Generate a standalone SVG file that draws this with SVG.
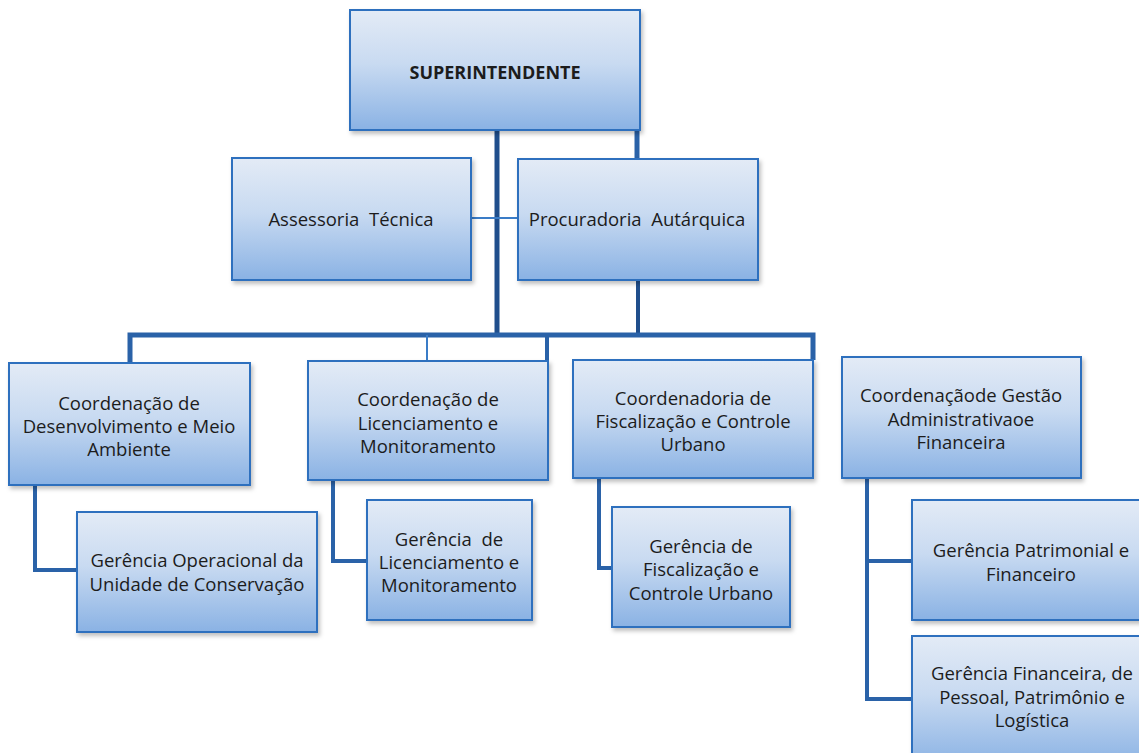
<svg xmlns="http://www.w3.org/2000/svg" width="1139" height="753" viewBox="0 0 1139 753">
<defs>
<linearGradient id="g" x1="0" y1="0" x2="0" y2="1">
<stop offset="0" stop-color="#e3ebf6"/>
<stop offset="0.45" stop-color="#c8daf1"/>
<stop offset="1" stop-color="#8ab2e4"/>
</linearGradient>
<filter id="sh" x="-5%" y="-5%" width="112%" height="115%">
<feDropShadow dx="2" dy="3" stdDeviation="2" flood-color="#000" flood-opacity="0.25"/>
</filter>
</defs>
<style>
.box{fill:url(#g);stroke:#2f6fbe;stroke-width:2;filter:url(#sh)}
.t{font-family:"Open Sans","Liberation Sans",sans-serif;font-size:18.5px;fill:#1c1c1c;text-anchor:middle;dominant-baseline:central;white-space:pre}
.b{font-weight:bold;font-size:18px}
.c{fill:none;stroke:#2a62a8;stroke-width:5;stroke-linejoin:miter}
.cd{stroke:#1f4e8c}
.thin{fill:none;stroke:#3a7cc7;stroke-width:2}
</style>
<rect width="1139" height="753" fill="#ffffff"/>
<g id="connectors">
<line class="c cd" x1="497" y1="130" x2="497" y2="336"/>
<line class="c" x1="637" y1="130" x2="637" y2="159" stroke-width="4"/>
<line class="thin" x1="471" y1="218" x2="518" y2="218"/>
<line class="c cd" x1="638" y1="280" x2="638" y2="336" style="stroke-width:4"/>
<polyline class="c" points="130,362 130,335 813,335 813,360"/>
<line class="thin" x1="427" y1="335" x2="427" y2="361"/>
<line class="c" x1="547" y1="335" x2="547" y2="361" style="stroke-width:4"/>
<polyline class="c" points="35,485 35,570 77,570" style="stroke-width:4"/>
<polyline class="c" points="333,480 333,561 367,561" style="stroke-width:4"/>
<polyline class="c" points="599,478 599,568 612,568" style="stroke-width:4"/>
<polyline class="c" points="867,478 867,699 912,699" style="stroke-width:4"/>
<line class="c" x1="867" y1="561" x2="912" y2="561" style="stroke-width:4"/>
</g>
<g id="superintendente">
<rect class="box" x="350" y="10" width="290" height="120"/>
<text class="t b" x="495" y="72">SUPERINTENDENTE</text>
</g>
<g id="assessoria">
<rect class="box" x="232" y="158" width="239" height="122"/>
<text class="t" x="351" y="218">Assessoria  Técnica</text>
</g>
<g id="procuradoria">
<rect class="box" x="518" y="159" width="240" height="121"/>
<text class="t" x="637" y="218">Procuradoria  Autárquica</text>
</g>
<g id="coord-desenvolvimento">
<rect class="box" x="9" y="363" width="241" height="122"/>
<text class="t" x="129" y="402">Coordenação de</text>
<text class="t" x="129" y="425">Desenvolvimento e Meio</text>
<text class="t" x="129" y="448">Ambiente</text>
</g>
<g id="coord-licenciamento">
<rect class="box" x="308" y="361" width="240" height="119"/>
<text class="t" x="428" y="398">Coordenação de</text>
<text class="t" x="428" y="422">Licenciamento e</text>
<text class="t" x="428" y="445">Monitoramento</text>
</g>
<g id="coord-fiscalizacao">
<rect class="box" x="573" y="360" width="240" height="118"/>
<text class="t" x="693" y="397">Coordenadoria de</text>
<text class="t" x="693" y="420">Fiscalização e Controle</text>
<text class="t" x="693" y="443">Urbano</text>
</g>
<g id="coord-gestao">
<rect class="box" x="842" y="357" width="239" height="121"/>
<text class="t" x="961" y="394">Coordenaçãode Gestão</text>
<text class="t" x="961" y="418">Administrativaoe</text>
<text class="t" x="961" y="441">Financeira</text>
</g>
<g id="ger-operacional">
<rect class="box" x="77" y="512" width="240" height="120"/>
<text class="t" x="197" y="559">Gerência Operacional da</text>
<text class="t" x="197" y="583">Unidade de Conservação</text>
</g>
<g id="ger-licenciamento">
<rect class="box" x="367" y="500" width="165" height="120"/>
<text class="t" x="449" y="538">Gerência  de</text>
<text class="t" x="449" y="561">Licenciamento e</text>
<text class="t" x="449" y="584">Monitoramento</text>
</g>
<g id="ger-fiscalizacao">
<rect class="box" x="612" y="507" width="178" height="120"/>
<text class="t" x="701" y="545">Gerência de</text>
<text class="t" x="701" y="568">Fiscalização e</text>
<text class="t" x="701" y="592">Controle Urbano</text>
</g>
<g id="ger-patrimonial">
<rect class="box" x="912" y="500" width="240" height="120"/>
<text class="t" x="1031" y="549">Gerência Patrimonial e</text>
<text class="t" x="1031" y="573">Financeiro</text>
</g>
<g id="ger-financeira">
<rect class="box" x="912" y="636" width="240" height="130"/>
<text class="t" x="1032" y="672">Gerência Financeira, de</text>
<text class="t" x="1032" y="696">Pessoal, Patrimônio e</text>
<text class="t" x="1032" y="719">Logística</text>
</g>
</svg>
